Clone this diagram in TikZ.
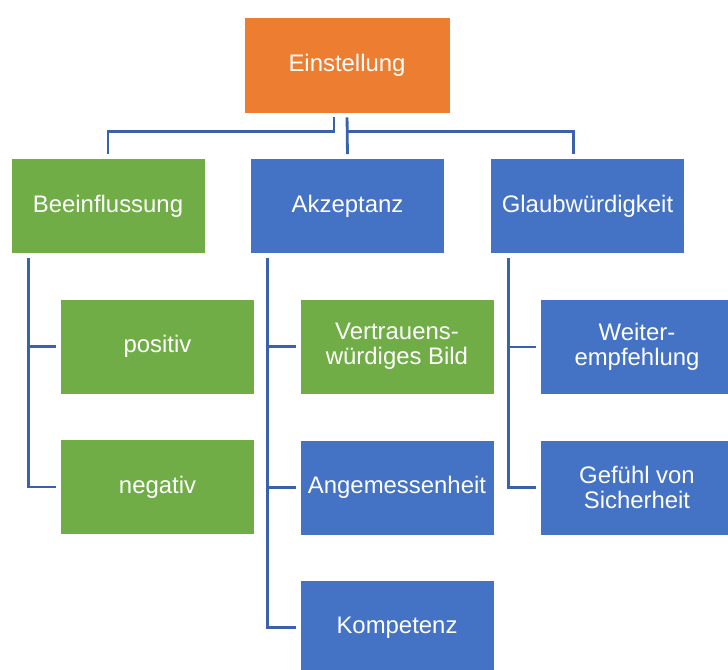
\documentclass[tikz,border=0pt]{standalone}
\usepackage{fontspec}
\setmainfont{Liberation Sans}
\definecolor{orangebox}{HTML}{ED7D31}
\definecolor{greenbox}{HTML}{70AD47}
\definecolor{bluebox}{HTML}{4472C4}
\definecolor{linkblue}{HTML}{3A62AC}
\begin{document}
\begin{tikzpicture}[x=0.025cm,y=-0.025cm,
  box/.style={draw=white,line width=0.4pt,text=white,align=center,minimum width=4.85cm,minimum height=2.375cm,inner sep=1pt,font=\fontsize{17}{18}\selectfont},
  link/.style={draw=linkblue,line width=2pt,shorten <=0.1cm,shorten >=0.1cm}]
\clip (0,0) rectangle (728,669);
\node(E)[box,fill=orangebox,minimum width=5.15cm,minimum height=2.4cm] at (347,65) {Einstellung};

\node(B)[box,fill=greenbox] at (108,206) {Beeinflussung};
\node(A)[box,fill=bluebox] at (347.5,206) {Akzeptanz};
\node(G)[box,fill=bluebox] at (587.5,206) {Glaubwürdigkeit};

\node(pos)[box,fill=greenbox] at (157.5,346.5) {positiv};
\node(neg)[box,fill=greenbox] at (157.5,487) {negativ};
\node(V)[box,fill=greenbox] at (397,346.5) {Vertrauens-\\würdiges Bild};
\node(Ang)[box,fill=bluebox] at (397,487.5) {Angemessenheit};
\node(K)[box,fill=bluebox] at (397,627.5) {Kompetenz};
\node(W)[box,fill=bluebox] at (637,347) {Weiter-\\empfehlung};
\node(Gef)[box,fill=bluebox] at (637,487.5) {Gefühl von\\Sicherheit};

%\draw[link] (E) -- (B);
\draw[link] ([xshift=-0.325cm]E.south) -- ++(0,18) -| (B.north);
\draw[link] (E.south) -- (A.north);
\draw[link,shorten <=0pt] ([yshift=-0.45cm]E.south) -| ([xshift=-0.36cm]G.north);

\coordinate(bl) at ([xshift=0.45cm]B.south west);
\draw[link] (bl) |- (neg.west);
\draw[link,shorten <=0pt] (bl |- pos.west) -- (pos.west);

\coordinate(al) at ([xshift=0.44cm]A.south west);
\draw[link] (al) |- (K.west);
\draw[link,shorten <=0pt] (al |- V.west) -- (V.west);
\draw[link,shorten <=0pt] (al |- Ang.west) -- (Ang.west);

\coordinate(gl) at ([xshift=0.45cm]G.south west);
\draw[link] (gl) |- (Gef.west);
\draw[link,shorten <=0pt] (gl |- W.west) -- (W.west);

\end{tikzpicture}
\end{document}
